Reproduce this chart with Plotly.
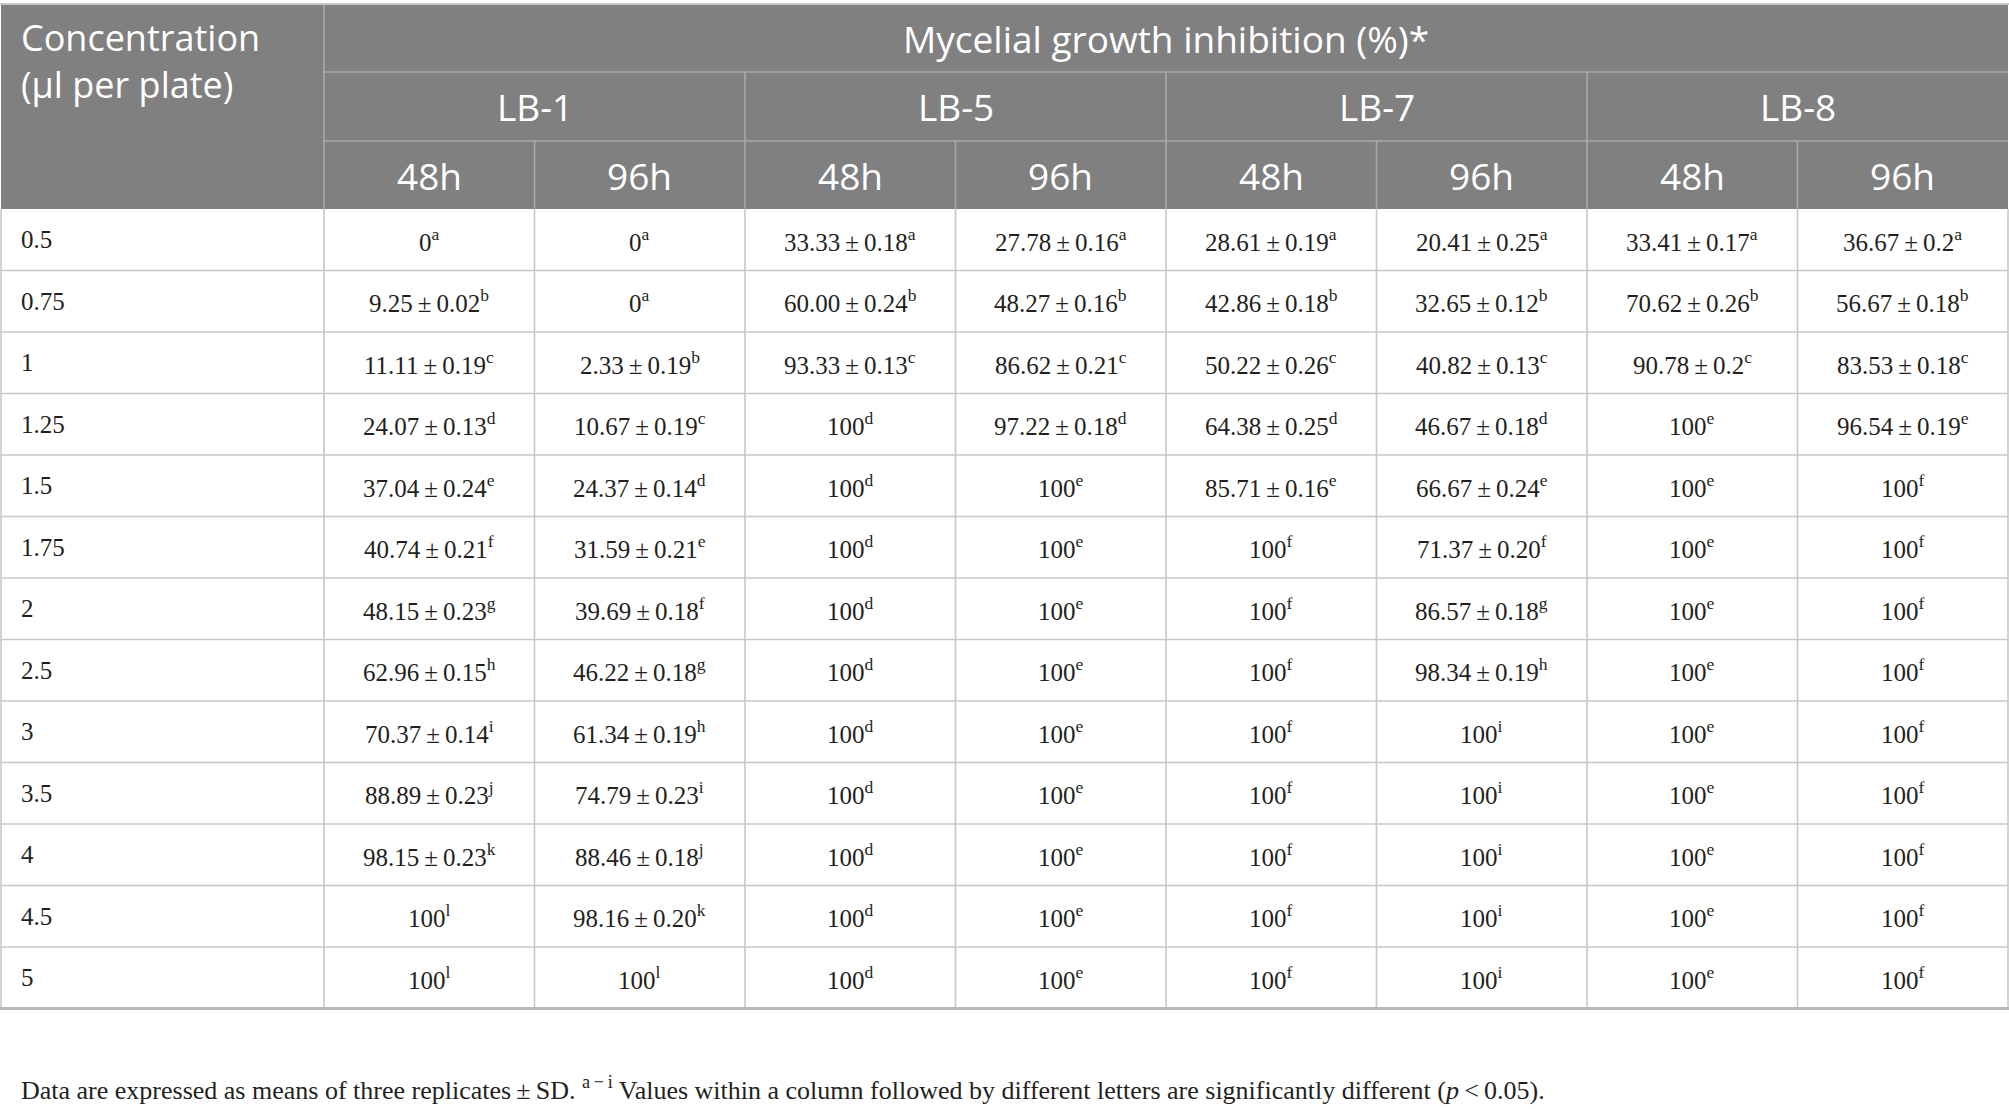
import plotly.graph_objects as go

# ---------------- data ----------------
concentration = ["0.5", "0.75", "1", "1.25", "1.5", "1.75", "2", "2.5", "3", "3.5", "4", "4.5", "5"]
strains = ["LB-1", "LB-5", "LB-7", "LB-8"]
times = ["48h", "96h"]

lb1_48_mean = ["0", "9.25", "11.11", "24.07", "37.04", "40.74", "48.15", "62.96", "70.37", "88.89", "98.15", "100", "100"]
lb1_48_sd = [None, "0.02", "0.19", "0.13", "0.24", "0.21", "0.23", "0.15", "0.14", "0.23", "0.23", None, None]
lb1_48_let = ["a", "b", "c", "d", "e", "f", "g", "h", "i", "j", "k", "l", "l"]

lb1_96_mean = ["0", "0", "2.33", "10.67", "24.37", "31.59", "39.69", "46.22", "61.34", "74.79", "88.46", "98.16", "100"]
lb1_96_sd = [None, None, "0.19", "0.19", "0.14", "0.21", "0.18", "0.18", "0.19", "0.23", "0.18", "0.20", None]
lb1_96_let = ["a", "a", "b", "c", "d", "e", "f", "g", "h", "i", "j", "k", "l"]

lb5_48_mean = ["33.33", "60.00", "93.33", "100", "100", "100", "100", "100", "100", "100", "100", "100", "100"]
lb5_48_sd = ["0.18", "0.24", "0.13", None, None, None, None, None, None, None, None, None, None]
lb5_48_let = ["a", "b", "c", "d", "d", "d", "d", "d", "d", "d", "d", "d", "d"]

lb5_96_mean = ["27.78", "48.27", "86.62", "97.22", "100", "100", "100", "100", "100", "100", "100", "100", "100"]
lb5_96_sd = ["0.16", "0.16", "0.21", "0.18", None, None, None, None, None, None, None, None, None]
lb5_96_let = ["a", "b", "c", "d", "e", "e", "e", "e", "e", "e", "e", "e", "e"]

lb7_48_mean = ["28.61", "42.86", "50.22", "64.38", "85.71", "100", "100", "100", "100", "100", "100", "100", "100"]
lb7_48_sd = ["0.19", "0.18", "0.26", "0.25", "0.16", None, None, None, None, None, None, None, None]
lb7_48_let = ["a", "b", "c", "d", "e", "f", "f", "f", "f", "f", "f", "f", "f"]

lb7_96_mean = ["20.41", "32.65", "40.82", "46.67", "66.67", "71.37", "86.57", "98.34", "100", "100", "100", "100", "100"]
lb7_96_sd = ["0.25", "0.12", "0.13", "0.18", "0.24", "0.20", "0.18", "0.19", None, None, None, None, None]
lb7_96_let = ["a", "b", "c", "d", "e", "f", "g", "h", "i", "i", "i", "i", "i"]

lb8_48_mean = ["33.41", "70.62", "90.78", "100", "100", "100", "100", "100", "100", "100", "100", "100", "100"]
lb8_48_sd = ["0.17", "0.26", "0.2", None, None, None, None, None, None, None, None, None, None]
lb8_48_let = ["a", "b", "c", "e", "e", "e", "e", "e", "e", "e", "e", "e", "e"]

lb8_96_mean = ["36.67", "56.67", "83.53", "96.54", "100", "100", "100", "100", "100", "100", "100", "100", "100"]
lb8_96_sd = ["0.2", "0.18", "0.18", "0.19", None, None, None, None, None, None, None, None, None]
lb8_96_let = ["a", "b", "c", "e", "f", "f", "f", "f", "f", "f", "f", "f", "f"]

header_left = "Concentration<br>(μl per plate)"
header_top = "Mycelial growth inhibition (%)*"
footnote = ("Data are expressed as means of three replicates\u2009±\u2009SD. <sup>a\u2009\u2212\u2009i</sup> "
            "Values within a column followed by different letters are significantly different "
            "(<i>p</i>\u2009&lt;\u20090.05).")

columns = [
    (lb1_48_mean, lb1_48_sd, lb1_48_let), (lb1_96_mean, lb1_96_sd, lb1_96_let),
    (lb5_48_mean, lb5_48_sd, lb5_48_let), (lb5_96_mean, lb5_96_sd, lb5_96_let),
    (lb7_48_mean, lb7_48_sd, lb7_48_let), (lb7_96_mean, lb7_96_sd, lb7_96_let),
    (lb8_48_mean, lb8_48_sd, lb8_48_let), (lb8_96_mean, lb8_96_sd, lb8_96_let),
]

# ---------------- layout constants ----------------
W, H = 2009, 1109
X0, X1 = 1, 2008
FIRST_W = 323
n_val_cols = len(columns)
val_w = (X1 - X0 - FIRST_W) / n_val_cols
col_edges = [X0, X0 + FIRST_W] + [X0 + FIRST_W + val_w * (i + 1) for i in range(n_val_cols)]

TOP = 5
head_h = [67, 69, 68]
head_edges = [TOP]
for h in head_h:
    head_edges.append(head_edges[-1] + h)
ROW_H = 61.5
row_edges = [head_edges[-1] + ROW_H * i for i in range(len(concentration) + 1)]
BOTTOM = row_edges[-1]
FOOT_Y = 1088
LEFT_PAD = 18
HEAD_LEFT_Y = 61

HEAD_BG = "#808080"
HEAD_LINE = "#a9a9a9"
GRID = "#c8c8c8"
TEXT = "#231f20"
SANS = "Open Sans"
SERIF = "Liberation Serif"
HEAD_SIZE = 37
HEAD_LEFT_SIZE = 36
CELL_SIZE = 25
FOOT_SIZE = 26

fig = go.Figure()
shapes = []
ann = []

# header background
shapes.append(dict(type="rect", xref="x", yref="y", x0=X0, x1=X1, y0=head_edges[0], y1=head_edges[-1],
                   fillcolor=HEAD_BG, line=dict(width=0), layer="below"))

def hline(x0, x1, y, color, w=1.6):
    shapes.append(dict(type="line", xref="x", yref="y", x0=x0, x1=x1, y0=y, y1=y,
                       line=dict(color=color, width=w)))

def vline(x, y0, y1, color, w=1.6):
    shapes.append(dict(type="line", xref="x", yref="y", x0=x, x1=x, y0=y0, y1=y1,
                       line=dict(color=color, width=w)))

# header internal lines
hline(col_edges[1], X1, head_edges[1], HEAD_LINE)
hline(col_edges[1], X1, head_edges[2], HEAD_LINE)
vline(col_edges[1], head_edges[0], head_edges[3], HEAD_LINE)
for g in range(1, len(strains)):
    vline(col_edges[1 + 2 * g], head_edges[1], head_edges[3], HEAD_LINE)
for c in range(2, len(col_edges) - 1, 2):
    vline(col_edges[c], head_edges[2], head_edges[3], HEAD_LINE)

# top border
hline(X0 - 1, X1 + 1, TOP - 1, GRID, 2)

# body grid
for y in row_edges[1:-1]:
    hline(X0, X1, y, GRID)
for x in col_edges:
    vline(x, row_edges[0], BOTTOM, GRID)
hline(X0 - 1, X1 + 1, BOTTOM, "#b8b8b8", 3)

# header texts
ann.append(dict(x=X0 + LEFT_PAD, y=HEAD_LEFT_Y, xref="x", yref="y", text=header_left, showarrow=False,
                xanchor="left", yanchor="middle", align="left",
                font=dict(family=SANS, size=HEAD_LEFT_SIZE, color="white")))
ann.append(dict(x=(col_edges[1] + X1) / 2, y=(head_edges[0] + head_edges[1]) / 2, xref="x", yref="y",
                text=header_top, showarrow=False, xanchor="center", yanchor="middle",
                font=dict(family=SANS, size=HEAD_SIZE, color="white")))
for g, s in enumerate(strains):
    xc = (col_edges[1 + 2 * g] + col_edges[3 + 2 * g]) / 2
    ann.append(dict(x=xc, y=(head_edges[1] + head_edges[2]) / 2, xref="x", yref="y", text=s,
                    showarrow=False, xanchor="center", yanchor="middle",
                    font=dict(family=SANS, size=HEAD_SIZE, color="white")))
    for t_i, t in enumerate(times):
        c = 1 + 2 * g + t_i
        ann.append(dict(x=(col_edges[c] + col_edges[c + 1]) / 2, y=(head_edges[2] + head_edges[3]) / 2,
                        xref="x", yref="y", text=t, showarrow=False, xanchor="center", yanchor="middle",
                        font=dict(family=SANS, size=HEAD_SIZE, color="white")))

# body texts
for r, conc in enumerate(concentration):
    yc = (row_edges[r] + row_edges[r + 1]) / 2
    ann.append(dict(x=X0 + LEFT_PAD, y=yc, xref="x", yref="y", text=conc, showarrow=False,
                    xanchor="left", yanchor="middle", font=dict(family=SERIF, size=CELL_SIZE, color=TEXT)))
    for c, (mean, sd, let) in enumerate(columns):
        txt = mean[r]
        if sd[r] is not None:
            txt = f"{mean[r]}\u2009±\u2009{sd[r]}"
        txt += f"<sup>{let[r]}</sup>"
        ann.append(dict(x=(col_edges[c + 1] + col_edges[c + 2]) / 2, y=yc, xref="x", yref="y", text=txt,
                        showarrow=False, xanchor="center", yanchor="middle",
                        font=dict(family=SERIF, size=CELL_SIZE, color=TEXT)))

ann.append(dict(x=X0 + LEFT_PAD, y=FOOT_Y, xref="x", yref="y", text=footnote, showarrow=False,
                xanchor="left", yanchor="middle", font=dict(family=SERIF, size=FOOT_SIZE, color=TEXT)))

fig.update_layout(
    width=W, height=H, margin=dict(l=0, r=0, t=0, b=0),
    paper_bgcolor="white", plot_bgcolor="white",
    xaxis=dict(range=[0, W], visible=False, fixedrange=True),
    yaxis=dict(range=[H, 0], visible=False, fixedrange=True),
    shapes=shapes, annotations=ann, showlegend=False,
)

fig.write_html("out.html", config={"displayModeBar": False},
               post_script="document.body.style.margin='0';document.body.style.overflow='hidden';")
